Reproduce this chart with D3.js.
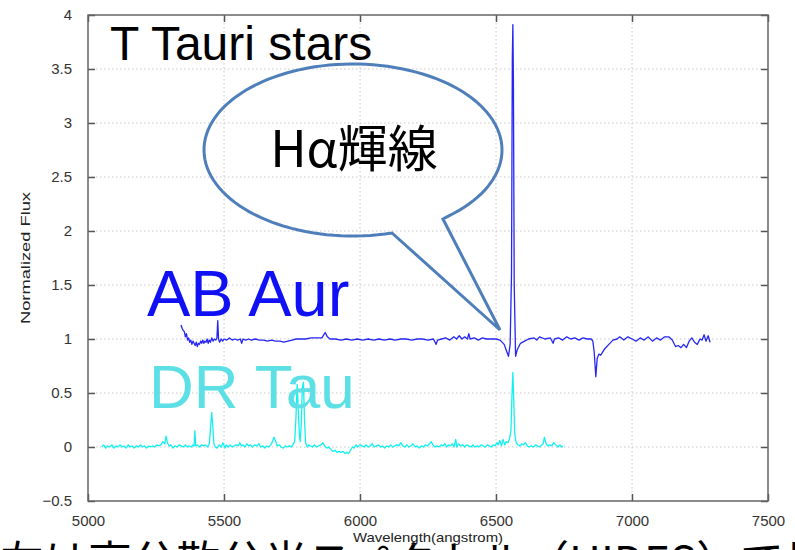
<!DOCTYPE html>
<html>
<head>
<meta charset="utf-8">
<script src="https://cdn.jsdelivr.net/npm/d3@7"></script>
<style>
  html, body { margin: 0; padding: 0; background: #fff; overflow: hidden; }
  svg { display: block; }
</style>
</head>
<body>
<svg id="chart" width="795" height="550"></svg>
<script>
// ---------------- DATA ----------------
const xTicks = [5000, 5500, 6000, 6500, 7000, 7500];
const yTicks = [-0.5, 0, 0.5, 1, 1.5, 2, 2.5, 3, 3.5, 4];
const xLabel = "Wavelength(angstrom)";
const yLabel = "Normalized Flux";
const title = "T Tauri stars";
const seriesNames = ["AB Aur", "DR Tau"];
const calloutText = "Hα輝線";
const footerText = "左は高分散分光スペクトル（HIDES）で見た様子";

// AB Aur: [wavelength, normalized flux]
const abAur = [
 [5342,1.13],[5346,1.10],[5350,1.08],[5354,1.07],[5358,1.02],[5362,1.05],[5366,0.99],[5370,1.01],
 [5374,0.97],[5378,0.99],[5382,0.95],[5386,0.98],[5390,0.96],[5394,0.94],[5398,0.97],[5402,0.93],
 [5406,0.96],[5410,0.95],[5414,0.98],[5418,0.96],[5422,0.99],[5426,0.96],[5430,0.98],[5434,0.97],
 [5438,1.00],[5442,0.96],[5446,0.99],[5450,0.97],[5455,1.01],[5460,0.98],[5465,1.00],[5470,0.99],
 [5474,1.01],[5477,1.17],[5480,1.00],[5484,0.97],[5490,1.00],[5495,0.98],[5500,1.00],[5510,0.99],
 [5520,1.01],[5530,0.99],[5540,1.00],[5550,0.99],[5560,1.00],[5565,0.96],[5570,1.00],[5580,0.99],
 [5590,1.00],[5600,0.99],[5615,1.00],[5630,0.99],[5645,0.99],[5660,0.98],[5675,0.99],[5690,0.98],
 [5705,0.98],[5720,0.97],[5735,0.98],[5750,0.99],[5765,1.00],[5780,1.00],[5800,1.00],[5820,1.01],
 [5840,1.01],[5860,1.01],[5872,1.06],[5880,1.02],[5890,1.00],[5910,1.00],[5930,0.99],[5950,1.00],
 [5970,0.99],[5990,1.00],[6010,0.99],[6030,1.00],[6050,0.99],[6070,1.00],[6090,0.99],[6110,1.00],
 [6130,0.99],[6150,1.00],[6170,1.00],[6190,0.99],[6210,1.00],[6230,1.00],[6250,0.99],[6270,1.00],
 [6280,0.95],[6285,0.99],[6300,1.00],[6315,1.01],[6330,0.99],[6345,1.02],[6355,1.00],[6365,1.03],
 [6375,1.00],[6385,1.02],[6395,1.00],[6400,1.05],[6405,1.00],[6420,1.01],[6435,0.99],[6450,1.01],
 [6465,1.00],[6480,1.00],[6500,1.00],[6515,0.99],[6530,0.95],[6540,0.88],[6546,0.84],[6552,0.95],
 [6557,1.60],[6560,3.60],[6562,3.91],[6564,3.40],[6567,1.50],[6572,0.84],[6578,0.90],[6590,0.96],
 [6605,0.98],[6620,1.00],[6640,1.01],[6650,0.99],[6660,1.02],[6680,1.00],[6700,1.01],[6710,0.96],
 [6715,1.00],[6730,1.01],[6745,0.99],[6760,1.02],[6775,1.00],[6790,1.01],[6805,0.99],[6820,1.01],
 [6835,1.00],[6850,1.00],[6856,0.98],[6861,0.88],[6867,0.65],[6872,0.82],[6878,0.86],[6885,0.85],
 [6900,0.91],[6915,0.95],[6930,0.99],[6945,1.00],[6955,1.02],[6970,0.99],[6985,1.02],[7000,1.00],
 [7015,0.98],[7030,1.01],[7045,0.99],[7060,1.02],[7075,0.98],[7090,1.01],[7105,0.99],[7120,1.02],
 [7135,1.02],[7148,0.99],[7160,0.93],[7170,0.94],[7180,0.92],[7190,0.95],[7200,0.92],[7210,0.98],
 [7220,1.01],[7230,0.97],[7240,0.95],[7250,1.00],[7258,0.99],[7265,1.04],[7272,0.98],[7280,1.03],
 [7287,0.97]
];

// DR Tau: [wavelength, normalized flux]
const drTau = [
 [5051,0.00],[5058,0.02],[5065,-0.01],[5072,0.01],[5080,0.00],[5088,0.02],[5095,-0.01],[5103,0.01],
 [5110,0.00],[5118,0.02],[5125,0.00],[5133,0.01],[5140,-0.01],[5148,0.02],[5155,0.00],[5163,0.01],
 [5170,-0.01],[5178,0.01],[5185,0.00],[5193,0.02],[5200,0.00],[5208,0.01],[5215,-0.01],[5223,0.01],
 [5230,0.00],[5238,0.01],[5245,0.00],[5253,0.02],[5260,0.01],[5268,0.02],[5275,0.05],[5282,0.03],
 [5287,0.10],[5292,0.04],[5298,0.01],[5305,0.02],[5312,-0.01],[5320,0.01],[5328,0.00],[5335,0.02],
 [5342,0.01],[5350,0.00],[5358,0.02],[5365,0.00],[5372,0.01],[5380,0.00],[5386,0.02],[5390,0.01],
 [5393,0.15],[5396,0.01],[5402,0.02],[5410,0.00],[5418,0.02],[5425,0.01],[5432,0.02],[5440,0.00],
 [5446,0.03],[5451,0.20],[5455,0.32],[5459,0.18],[5463,0.03],[5468,0.00],[5475,-0.01],[5482,0.02],
 [5490,0.00],[5496,0.04],[5503,-0.01],[5508,0.02],[5515,0.00],[5522,0.02],[5530,0.00],[5537,0.01],
 [5545,0.02],[5552,0.01],[5558,0.04],[5564,0.01],[5570,0.02],[5577,0.00],[5584,0.03],[5590,0.01],
 [5597,0.02],[5604,0.00],[5612,0.02],[5620,0.01],[5628,0.03],[5635,0.00],[5642,0.01],[5650,-0.01],
 [5657,0.01],[5664,0.00],[5672,0.02],[5678,0.05],[5684,0.09],[5690,0.05],[5696,0.01],[5703,0.02],
 [5710,0.00],[5718,-0.01],[5725,0.01],[5732,0.00],[5740,0.01],[5747,0.00],[5753,0.02],[5760,0.05],
 [5765,0.30],[5769,0.58],[5773,0.35],[5777,0.12],[5780,0.05],[5784,0.20],[5788,0.55],[5792,0.60],
 [5796,0.25],[5800,0.04],[5806,0.00],[5812,0.02],[5818,0.01],[5825,0.00],[5832,0.02],[5840,0.00],
 [5848,0.01],[5856,0.02],[5864,0.04],[5870,0.01],[5877,-0.01],[5885,0.00],[5892,-0.02],[5900,-0.04],
 [5908,-0.03],[5915,-0.05],[5922,-0.04],[5930,-0.05],[5938,-0.04],[5945,-0.06],[5952,-0.05],[5958,-0.06],
 [5965,-0.03],[5972,0.00],[5978,-0.01],[5985,0.02],[5992,0.00],[6000,0.02],[6008,0.01],[6015,0.00],
 [6022,0.02],[6030,0.00],[6037,0.01],[6045,0.03],[6052,0.00],[6060,0.01],[6068,0.02],[6075,0.00],
 [6083,0.01],[6090,-0.01],[6098,0.01],[6105,0.00],[6113,0.02],[6120,0.00],[6128,0.01],[6135,0.02],
 [6143,0.01],[6150,0.04],[6157,0.01],[6165,0.00],[6172,0.02],[6180,0.00],[6188,0.01],[6195,0.03],
 [6203,0.00],[6210,0.01],[6218,-0.01],[6225,0.01],[6233,0.00],[6240,0.02],[6248,0.01],[6256,0.03],
 [6262,0.05],[6268,0.02],[6275,0.00],[6283,0.01],[6290,0.00],[6298,0.02],[6305,0.01],[6312,0.03],
 [6318,0.00],[6325,0.02],[6332,0.01],[6340,0.03],[6346,0.00],[6352,0.07],[6356,0.00],[6362,0.03],
 [6370,0.01],[6378,0.02],[6385,0.00],[6392,0.02],[6400,0.01],[6408,0.00],[6415,0.02],[6422,0.00],
 [6430,0.01],[6437,0.00],[6445,0.02],[6452,0.01],[6460,0.00],[6468,0.02],[6475,0.01],[6482,0.00],
 [6490,0.02],[6497,0.01],[6503,0.04],[6508,0.02],[6514,0.06],[6520,0.01],[6526,0.07],[6532,0.02],
 [6538,0.05],[6544,0.04],[6550,0.08],[6555,0.15],[6559,0.50],[6562,0.69],[6565,0.45],[6569,0.12],
 [6574,0.04],[6580,0.02],[6588,0.01],[6595,0.03],[6602,0.02],[6608,0.04],[6615,0.01],[6622,0.00],
 [6630,0.01],[6638,0.00],[6645,0.02],[6652,0.01],[6660,0.00],[6668,0.02],[6673,0.03],[6678,0.09],
 [6683,0.04],[6690,0.01],[6698,0.02],[6705,0.01],[6712,0.04],[6720,0.02],[6728,0.00],[6735,0.02],
 [6742,0.00],[6746,0.01]
];

// ---------------- DRAW ----------------
const svg = d3.select("#chart");
const m = {left: 88, right: 768, top: 15, bottom: 501};
const x = d3.scaleLinear().domain([5000, 7500]).range([m.left, m.right]);
const y = d3.scaleLinear().domain([-0.5, 4]).range([m.bottom, m.top]);
const W = m.right - m.left, H = m.bottom - m.top;

// grid
const grid = svg.append("g").attr("stroke", "#c8c8c8").attr("stroke-width", 1).attr("stroke-dasharray", "1.5,2.5");
xTicks.slice(1, -1).forEach(t => grid.append("line").attr("x1", x(t)).attr("x2", x(t)).attr("y1", m.top).attr("y2", m.bottom));
yTicks.slice(1, -1).forEach(t => grid.append("line").attr("x1", m.left).attr("x2", m.right).attr("y1", y(t)).attr("y2", y(t)));

// footer caption (cut off by the window bottom, drawn beneath the axis texts)
svg.append("text").attr("x", 0).attr("y", 578)
  .attr("font-family", "'Noto Sans CJK JP', sans-serif").attr("font-size", 44)
  .attr("fill", "#000").text(footerText);

// axes (ticks inward, gnuplot style)
const tickFont = "'Liberation Sans', Arial, sans-serif";
const gx = svg.append("g").attr("transform", `translate(0,${m.bottom})`)
  .call(d3.axisBottom(x).tickValues(xTicks).tickSizeInner(-7).tickSizeOuter(0).tickPadding(14).tickFormat(d3.format("d")));
const gxTop = svg.append("g").attr("transform", `translate(0,${m.top})`)
  .call(d3.axisTop(x).tickValues(xTicks).tickSizeInner(-7).tickSizeOuter(0).tickFormat(""));
const gy = svg.append("g").attr("transform", `translate(${m.left},0)`)
  .call(d3.axisLeft(y).tickValues(yTicks).tickSizeInner(-7).tickSizeOuter(0).tickPadding(16)
        .tickFormat(d => d < 0 ? "\u22120.5" : d3.format("~g")(d)));
const gyR = svg.append("g").attr("transform", `translate(${m.right},0)`)
  .call(d3.axisRight(y).tickValues(yTicks).tickSizeInner(-7).tickSizeOuter(0).tickFormat(""));
[gx, gxTop, gy, gyR].forEach(g => {
  g.select(".domain").remove();
  g.selectAll(".tick line").attr("stroke", "#555").attr("stroke-width", 1.5);
  g.selectAll("text").attr("font-family", tickFont).attr("font-size", 15).attr("fill", "#333");
});

// frame
svg.append("rect").attr("x", m.left).attr("y", m.top).attr("width", W).attr("height", H)
  .attr("fill", "none").attr("stroke", "#666").attr("stroke-width", 1.5);

// axis labels
svg.append("text").attr("x", (m.left + m.right) / 2).attr("y", 542)
  .attr("text-anchor", "middle").attr("font-family", tickFont).attr("font-size", 13)
  .attr("textLength", 150).attr("lengthAdjust", "spacingAndGlyphs").attr("fill", "#222").text(xLabel);
svg.append("text").attr("transform", `translate(30,${(m.top + m.bottom) / 2}) rotate(-90)`)
  .attr("text-anchor", "middle").attr("font-family", tickFont).attr("font-size", 13)
  .attr("textLength", 132).attr("lengthAdjust", "spacingAndGlyphs").attr("fill", "#222").text(yLabel);

// spectra
const line = d3.line().x(d => x(d[0])).y(d => y(d[1]));
svg.append("path").datum(drTau).attr("d", line).attr("fill", "none")
  .attr("stroke", "#14f0f0").attr("stroke-width", 1.3).attr("stroke-linejoin", "round");
svg.append("path").datum(abAur).attr("d", line).attr("fill", "none")
  .attr("stroke", "#2626f2").attr("stroke-width", 1.3).attr("stroke-linejoin", "round");

// title and series labels
svg.append("text").attr("x", 110).attr("y", 60).attr("font-family", tickFont).attr("font-size", 48)
  .attr("fill", "#000").text(title);
svg.append("text").attr("x", 147).attr("y", 316).attr("font-family", tickFont).attr("font-size", 65)
  .attr("fill", "#1010f5").text(seriesNames[0]);
svg.append("text").attr("x", 149).attr("y", 408).attr("font-family", tickFont).attr("font-size", 62)
  .attr("fill", "#5ce0e6").text(seriesNames[1]);

// callout balloon
const cx = 353, cy = 150, rx = 149, ry = 86;
const A = [392, 233], B = [443, 219], tip = [500, 330];
const balloon = d3.path();
balloon.moveTo(B[0], B[1]);
const a1 = Math.atan2((B[1] - cy) / ry, (B[0] - cx) / rx);
const a2 = Math.atan2((A[1] - cy) / ry, (A[0] - cx) / rx);
const steps = 120;
let start = a1, end = a2;
if (end > start) end -= 2 * Math.PI;
for (let i = 1; i <= steps; i++) {
  const t = start + (end - start) * i / steps;
  balloon.lineTo(cx + rx * Math.cos(t), cy + ry * Math.sin(t));
}
balloon.lineTo(tip[0], tip[1]);
balloon.closePath();
svg.append("path").attr("d", balloon.toString()).attr("fill", "none")
  .attr("stroke", "#4f7fba").attr("stroke-width", 3).attr("stroke-linejoin", "miter");
svg.append("text").attr("x", cx + 1).attr("y", 167).attr("text-anchor", "middle")
  .attr("font-family", "'Noto Sans CJK JP', 'Liberation Sans', sans-serif").attr("font-size", 50)
  .attr("fill", "#000").text(calloutText);
</script>
</body>
</html>
